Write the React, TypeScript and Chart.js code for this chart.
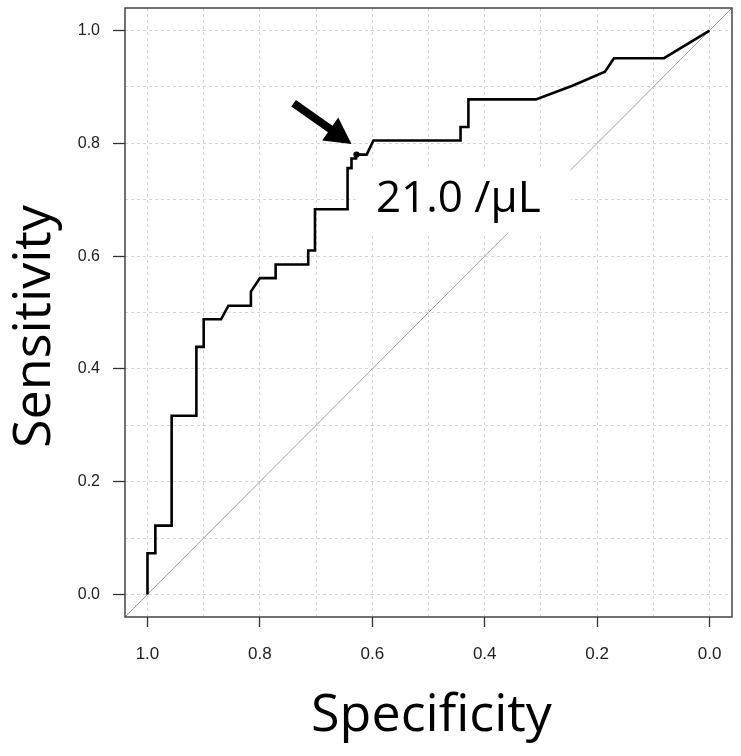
import React, { useEffect, useRef } from 'react';
import { Chart, registerables } from 'chart.js';

Chart.register(...registerables);

// ROC curve
const SPECIFICITY = [
  1.0, 1.0, 0.986, 0.986, 0.957, 0.957, 0.913, 0.913, 0.9, 0.9,
  0.869, 0.856, 0.816, 0.816, 0.8, 0.772, 0.772, 0.714, 0.714, 0.702,
  0.702, 0.644, 0.644, 0.637, 0.637, 0.629, 0.629, 0.61, 0.598, 0.443,
  0.443, 0.429, 0.429, 0.309, 0.244, 0.186, 0.17, 0.081, 0.0,
];
const SENSITIVITY = [
  0.0, 0.073, 0.073, 0.122, 0.122, 0.317, 0.317, 0.439, 0.439, 0.488,
  0.488, 0.512, 0.512, 0.537, 0.561, 0.561, 0.585, 0.585, 0.61, 0.61,
  0.683, 0.683, 0.756, 0.756, 0.773, 0.773, 0.78, 0.78, 0.805, 0.805,
  0.829, 0.829, 0.878, 0.878, 0.902, 0.927, 0.951, 0.951, 1.0,
];

// reference (chance) diagonal, spanning the whole plot region
const DIAG_SPEC = [1.04, -0.04];
const DIAG_SENS = [-0.04, 1.04];

// best cut-off point
const CUTOFF_SPEC = [0.628];
const CUTOFF_SENS = [0.78];
const CUTOFF_LABEL = '21.0 /µL';
const LABEL_AT = [0.447, 0.679]; // [spec, sens] of text baseline centre

// arrow (tail -> tip), in data units
const ARROW_FROM = [0.74, 0.871];
const ARROW_TO = [0.637, 0.799];

// axis grid / ticks
const GRID_VALUES = [0, 0.1, 0.2, 0.3, 0.4, 0.5, 0.6, 0.7, 0.8, 0.9, 1.0];
const AXIS_MIN = -0.04;
const AXIS_MAX = 1.04;
const X_TITLE = 'Specificity';
const Y_TITLE = 'Sensitivity';

const toPoints = (xs: number[], ys: number[]) => xs.map((x, i) => ({ x, y: ys[i] }));

const annotPlugin = {
  id: 'rocAnnotations',
  afterDatasetDraw(chart: any, args: any) {
    if (args.index !== 2) return;
    const { ctx } = chart;
    const xs = chart.scales.x;
    const ys = chart.scales.y;
    const tx = xs.getPixelForValue(LABEL_AT[0]);
    const ty = ys.getPixelForValue(LABEL_AT[1]);
    ctx.save();
    ctx.font = '44px "Open Sans"';
    const w = ctx.measureText(CUTOFF_LABEL).width;
    ctx.fillStyle = '#ffffff';
    ctx.fillRect(tx - w / 2 - 20, ty - 44, w + 50, 65);
    ctx.fillStyle = '#000000';
    ctx.textAlign = 'center';
    ctx.textBaseline = 'alphabetic';
    ctx.fillText(CUTOFF_LABEL, tx, ty);
    ctx.restore();
  },
  afterDraw(chart: any) {
    const { ctx, chartArea } = chart;
    const xs = chart.scales.x;
    const ys = chart.scales.y;
    ctx.save();
    // plot box
    ctx.strokeStyle = '#444444';
    ctx.lineWidth = 1.5;
    ctx.strokeRect(chartArea.left, chartArea.top, chartArea.right - chartArea.left, chartArea.bottom - chartArea.top);

    // arrow
    const x0 = xs.getPixelForValue(ARROW_FROM[0]);
    const y0 = ys.getPixelForValue(ARROW_FROM[1]);
    const x1 = xs.getPixelForValue(ARROW_TO[0]);
    const y1 = ys.getPixelForValue(ARROW_TO[1]);
    const len = Math.hypot(x1 - x0, y1 - y0);
    const ux = (x1 - x0) / len;
    const uy = (y1 - y0) / len;
    const px = -uy;
    const py = ux;
    const headLen = 26;
    const headHalf = 14;
    const shaftHalf = 4;
    const bx = x1 - ux * headLen;
    const by = y1 - uy * headLen;
    ctx.fillStyle = '#000000';
    ctx.beginPath();
    ctx.moveTo(x0 + px * shaftHalf, y0 + py * shaftHalf);
    ctx.lineTo(bx + px * shaftHalf, by + py * shaftHalf);
    ctx.lineTo(bx + px * headHalf, by + py * headHalf);
    ctx.lineTo(x1, y1);
    ctx.lineTo(bx - px * headHalf, by - py * headHalf);
    ctx.lineTo(bx - px * shaftHalf, by - py * shaftHalf);
    ctx.lineTo(x0 - px * shaftHalf, y0 - py * shaftHalf);
    ctx.closePath();
    ctx.fill();

    // axis titles
    ctx.fillStyle = '#000000';
    ctx.font = '52px "Open Sans"';
    ctx.textAlign = 'center';
    ctx.textBaseline = 'alphabetic';
    ctx.fillText(X_TITLE, (chartArea.left + chartArea.right) / 2 + 3, 731);
    ctx.translate(50, (chartArea.top + chartArea.bottom) / 2 + 14);
    ctx.rotate(-Math.PI / 2);
    ctx.fillText(Y_TITLE, 0, 0);
    ctx.restore();
  },
};

function makeAxis(position: 'bottom' | 'left') {
  const isX = position === 'bottom';
  return {
    type: 'linear' as const,
    position,
    min: AXIS_MIN,
    max: AXIS_MAX,
    reverse: isX,
    afterBuildTicks: (scale: any) => {
      scale.ticks = GRID_VALUES.map((v) => ({ value: v }));
    },
    afterFit: (scale: any) => {
      if (isX) scale.height = 139;
      else scale.width = 125;
      scale.paddingTop = 0;
      scale.paddingBottom = 0;
      scale.paddingLeft = 0;
      scale.paddingRight = 0;
    },
    border: { display: false, dash: [3, 3] },
    grid: {
      color: '#d6d6d6',
      lineWidth: 1,
      drawTicks: true,
      tickLength: isX ? 10 : 12,
      tickWidth: 1.3,
      tickBorderDash: [],
      tickColor: (c: any) => (c.index % 2 === 0 ? '#333333' : 'rgba(0,0,0,0)'),
    },
    ticks: {
      autoSkip: false,
      maxRotation: 0,
      minRotation: 0,
      padding: isX ? 17 : 13,
      color: '#222222',
      font: isX
        ? { family: '"Liberation Sans", Arial, sans-serif', size: 17 }
        : { family: '"Liberation Sans", Arial, sans-serif', size: 16 },
      callback: (value: any, index: number) => (index % 2 === 0 ? Number(value).toFixed(1) : ''),
    },
    title: { display: false },
  };
}

export default function App() {
  const canvasRef = useRef<HTMLCanvasElement | null>(null);

  useEffect(() => {
    document.body.style.margin = '0';
    const canvas = canvasRef.current;
    if (!canvas) return;
    const chart = new Chart(canvas, {
      type: 'scatter',
      data: {
        datasets: [
          {
            label: 'cut-off',
            data: toPoints(CUTOFF_SPEC, CUTOFF_SENS),
            showLine: false,
            pointRadius: 3.2,
            pointBackgroundColor: '#000000',
            pointBorderWidth: 0,
          },
          {
            label: 'ROC',
            data: toPoints(SPECIFICITY, SENSITIVITY),
            showLine: true,
            borderColor: '#000000',
            borderWidth: 2.6,
            pointRadius: 0,
            tension: 0,
            fill: false,
          },
          {
            label: 'chance',
            data: toPoints(DIAG_SPEC, DIAG_SENS),
            showLine: true,
            borderColor: '#a0a0a0',
            borderWidth: 1,
            pointRadius: 0,
            fill: false,
          },
        ],
      },
      options: {
        animation: false,
        responsive: false,
        maintainAspectRatio: false,
        layout: { padding: { top: 8, right: 9, left: 0, bottom: 0 } },
        plugins: {
          legend: { display: false },
          tooltip: { enabled: false },
          title: { display: false },
        },
        scales: {
          x: makeAxis('bottom'),
          y: makeAxis('left'),
        },
      },
      plugins: [annotPlugin],
    });
    return () => chart.destroy();
  }, []);

  return (
    <div style={{ width: 741, height: 756 }}>
      <canvas ref={canvasRef} width={741} height={756} style={{ display: 'block' }} />
    </div>
  );
}
